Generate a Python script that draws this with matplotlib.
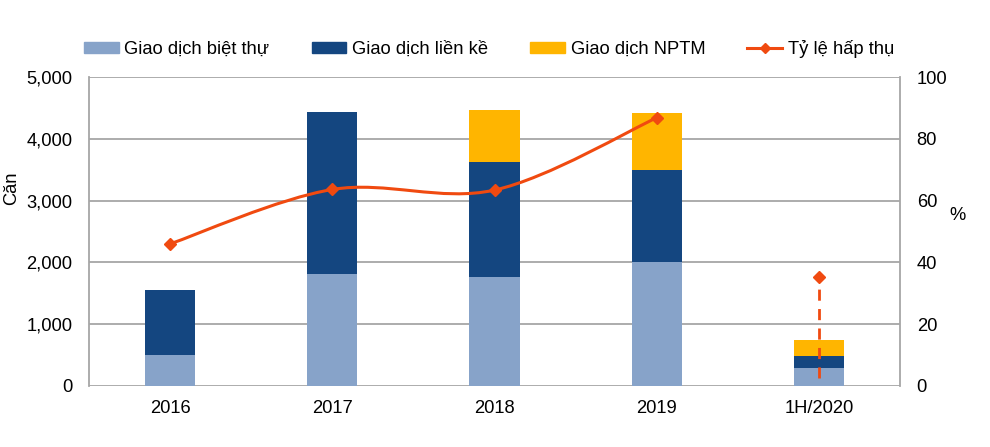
import numpy as np
import matplotlib.pyplot as plt
from matplotlib.path import Path
from matplotlib.patches import PathPatch, Patch
from matplotlib.lines import Line2D

plt.rcParams['font.family'] = ['Liberation Sans', 'DejaVu Sans']
plt.rcParams['font.size'] = 13.2

# data
years = ['2016', '2017', '2018', '2019', '1H/2020']
biet_thu = [500, 1810, 1770, 2010, 290]
lien_ke = [1060, 2620, 1850, 1490, 190]
nptm = [0, 0, 840, 920, 270]
ty_le = [46.0, 63.6, 63.4, 86.8]      # smooth line 2016-2019
ty_le_2020 = [2.7, 35.4]              # dashed segment at 1H/2020

c_bt = '#87A3C9'
c_lk = '#144680'
c_np = '#FFB500'
c_line = '#F04A10'
c_grid = '#A6A6A6'

fig = plt.figure(figsize=(9.9, 4.47), dpi=100)
ax = fig.add_axes([89 / 990, 61 / 447, 811 / 990, 309 / 447])
ax2 = ax.twinx()

x = np.arange(len(years))
w = 0.31
b1 = np.array(biet_thu)
b2 = b1 + np.array(lien_ke)
ax.bar(x, biet_thu, w, color=c_bt, zorder=2)
ax.bar(x, lien_ke, w, bottom=b1, color=c_lk, zorder=2)
ax.bar(x, nptm, w, bottom=b2, color=c_np, zorder=2)

ax.set_xlim(-0.5, 4.5)
ax.set_ylim(0, 5000)
ax.set_yticks(range(0, 5001, 1000))
ax.set_yticklabels([f'{v:,}' for v in range(0, 5001, 1000)])
ax.set_xticks(x)
ax.set_xticklabels(years)
ax.yaxis.grid(True, color=c_grid, linewidth=1.3, zorder=0)
ax.set_axisbelow(True)
ax.tick_params(axis='y', length=0, pad=12)
ax.tick_params(axis='x', length=0, pad=10)
for s in ['left', 'right', 'top', 'bottom']:
    ax.spines[s].set_visible(False)
ax.spines['left'].set_visible(True)
ax.spines['left'].set_color(c_grid)
ax.spines['left'].set_linewidth(1.3)

ax2.set_ylim(0, 100)
ax2.set_yticks(range(0, 101, 20))
ax2.tick_params(axis='y', length=0, pad=12)
for s in ['left', 'top', 'bottom']:
    ax2.spines[s].set_visible(False)
ax2.spines['right'].set_color(c_grid)
ax2.spines['right'].set_linewidth(1.3)

# smoothed line (bezier through the points, like Excel)
px = x[:4].astype(float)
py = np.array(ty_le)
verts = [(px[0], py[0])]
codes = [Path.MOVETO]
for i in range(len(px) - 1):
    p0 = (px[max(i - 1, 0)], py[max(i - 1, 0)])
    p1 = (px[i], py[i])
    p2 = (px[i + 1], py[i + 1])
    p3 = (px[min(i + 2, len(px) - 1)], py[min(i + 2, len(px) - 1)])
    c1 = (p1[0] + (p2[0] - p0[0]) / 6, p1[1] + (p2[1] - p0[1]) / 6)
    c2 = (p2[0] - (p3[0] - p1[0]) / 6, p2[1] - (p3[1] - p1[1]) / 6)
    verts += [c1, c2, p2]
    codes += [Path.CURVE4] * 3
ax2.add_patch(PathPatch(Path(verts, codes), facecolor='none', edgecolor=c_line,
                        linewidth=2.2, zorder=3))
ax2.plot(px, py, linestyle='none', marker='D', markersize=6, color=c_line, zorder=4)

ax2.plot([x[4], x[4]], ty_le_2020, color=c_line, linewidth=2, dashes=(4, 3), zorder=3)
ax2.plot([x[4]], [ty_le_2020[1]], linestyle='none', marker='D', markersize=6,
         color=c_line, zorder=4)

fig.text(12 / 990, 1 - 188 / 447, 'Căn', rotation=90, ha='center', va='center')
fig.text(958 / 990, 1 - 216 / 447, '%', ha='center', va='center')

handles = [Patch(color=c_bt), Patch(color=c_lk), Patch(color=c_np),
           Line2D([0], [0], color=c_line, linewidth=2.2, marker='D', markersize=5)]
labels = ['Giao dịch biệt thự', 'Giao dịch liền kề', 'Giao dịch NPTM', 'Tỷ lệ hấp thụ']
fig.legend(handles, labels, loc='center', bbox_to_anchor=(489 / 990, 1 - 49 / 447),
           ncol=4, frameon=False, handlelength=1.9, handleheight=0.6,
           handletextpad=0.3, columnspacing=2.3)

fig.savefig('out.png', dpi=100)
